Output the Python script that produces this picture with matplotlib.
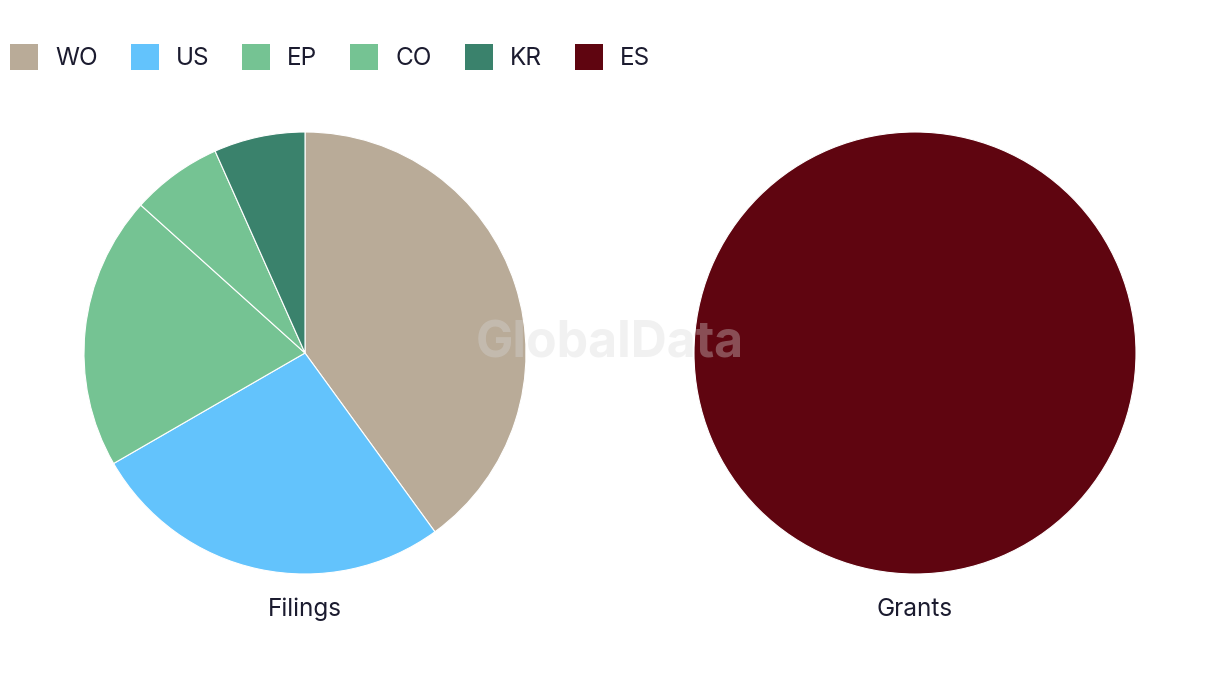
import matplotlib.pyplot as plt
from matplotlib.patches import Patch

plt.rcParams['font.family'] = ['Inter', 'DejaVu Sans']

# data
filing_labels = ['WO', 'US', 'EP', 'CO', 'KR']
filing_values = [6, 4, 3, 1, 1]
grant_labels = ['ES']
grant_values = [1]

legend_labels = ['WO', 'US', 'EP', 'CO', 'KR', 'ES']
colors = {'WO': '#b9ab98', 'US': '#63c3fc', 'EP': '#75c393',
          'CO': '#75c393', 'KR': '#3a826c', 'ES': '#5f0510'}
text_color = '#1b1b2f'

fig = plt.figure(figsize=(12.2, 6.86), dpi=100)

# pie axes placed by pixel box (center x, radius 221px)
def pie_axes(cx):
    r = 221
    ax = fig.add_axes([(cx - r) / 1220, (686 - 353 - r) / 686, 2 * r / 1220, 2 * r / 686])
    ax.axis('off')
    return ax

ax1 = pie_axes(305)
ax1.pie(filing_values, colors=[colors[k] for k in filing_labels], startangle=90,
        counterclock=False, radius=1, wedgeprops=dict(edgecolor='white', linewidth=0.8))
ax1.set_xlim(-1, 1)
ax1.set_ylim(-1, 1)

ax2 = pie_axes(915)
ax2.pie(grant_values, colors=[colors[k] for k in grant_labels], startangle=90,
        counterclock=False, radius=1, wedgeprops=dict(edgecolor='white', linewidth=0.8))
ax2.set_xlim(-1, 1)
ax2.set_ylim(-1, 1)

fig.text(305 / 1220, 1 - 609 / 686, 'Filings', ha='center', va='center',
         fontsize=17.5, color=text_color)
fig.text(915 / 1220, 1 - 609 / 686, 'Grants', ha='center', va='center',
         fontsize=17.5, color=text_color)

# watermark
fig.text(610 / 1220, 1 - 344 / 686, 'GlobalData', ha='center', va='center',
         fontsize=36, fontweight='bold', color='#d8d8d8', alpha=0.35)

handles = [Patch(facecolor=colors[k], edgecolor='none') for k in legend_labels]
fig.legend(handles, legend_labels, loc='upper left', bbox_to_anchor=(10 / 1220, 1 - 44 / 686),
           ncol=6, frameon=False, fontsize=17.5, handlelength=1.15, handleheight=1.3,
           handletextpad=0.7, columnspacing=1.36, borderaxespad=0, borderpad=0,
           labelcolor=text_color)

fig.savefig('out.png', dpi=100)
